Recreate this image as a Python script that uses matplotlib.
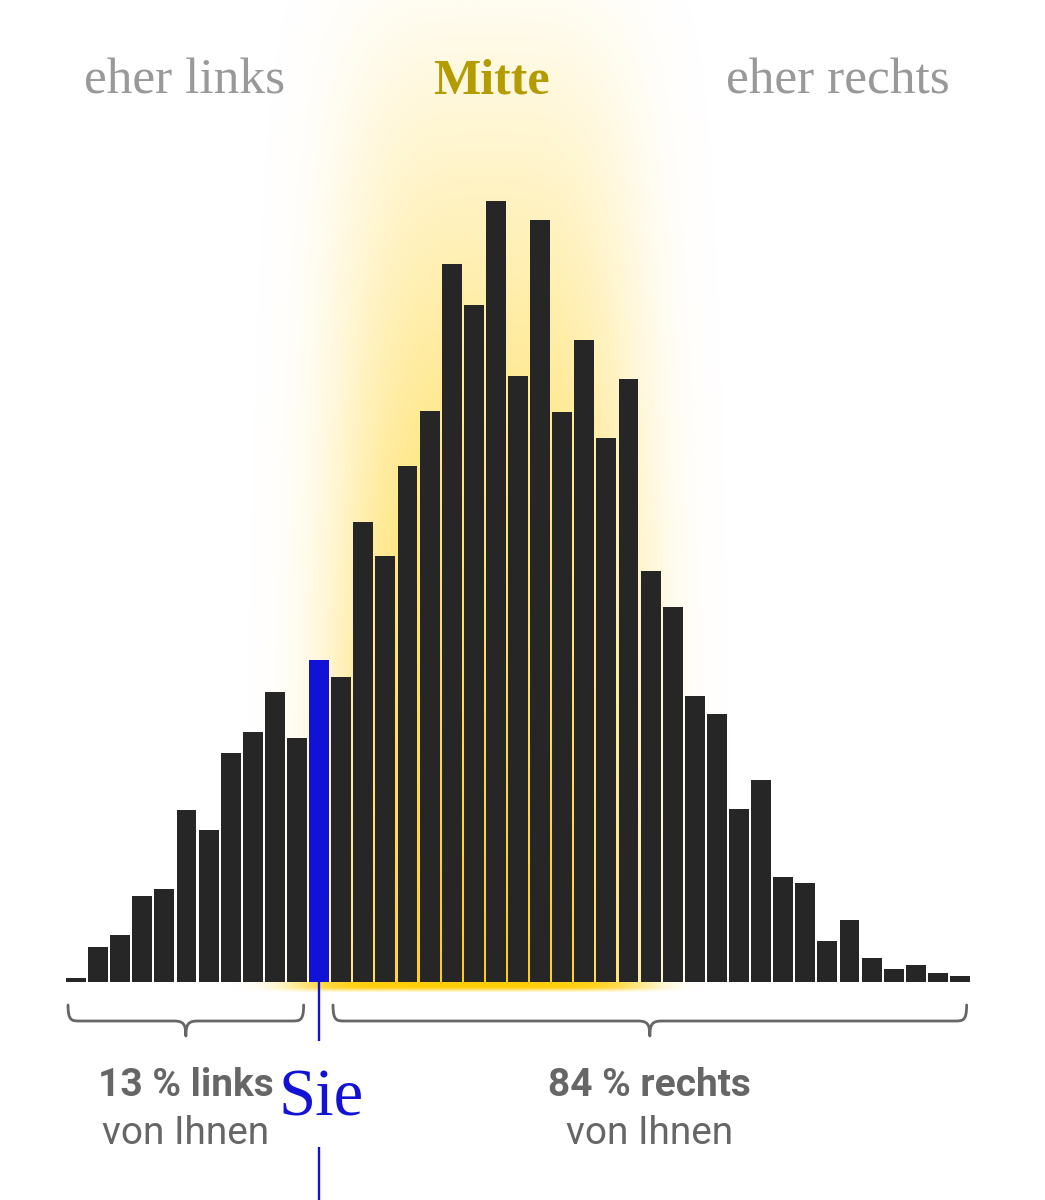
import numpy as np
import matplotlib
matplotlib.use("Agg")
import matplotlib.pyplot as plt
from matplotlib.path import Path
from matplotlib.patches import PathPatch

# counts per bin (left to right)
counts = [4.5, 35, 47, 86, 93, 172, 152, 229, 250, 290, 244,
          322, 305, 460, 426, 516, 571, 718, 677, 781, 606,
          762, 570, 642, 544, 603, 411, 375, 286, 268, 173,
          202, 105, 99, 41, 62, 24, 13, 17, 8.6, 6]
you_bin = 11
top_labels = ["eher links", "Mitte", "eher rechts"]
top_label_x = [4.93, 18.78, 34.48]

bar_color = "#262626"
blue = "#1212d6"
grey = "#666666"

n = len(counts)
x = np.arange(n)
left_share = round(sum(counts[:you_bin]) / sum(counts) * 100)
right_share = round(sum(counts[you_bin + 1:]) / sum(counts) * 100)

fig = plt.figure(figsize=(10.45, 12), dpi=100)
ax = fig.add_axes([64.95 / 1045, 0, 906.1 / 1045, 1])
ax.set_xlim(-0.5, n - 0.5)
ax.set_ylim(-218, 982)
ax.axis("off")

# yellow glow behind the middle
gx = np.linspace(-0.5, n - 0.5, 900)
gy = np.linspace(-12, 982, 900)
XX, YY = np.meshgrid(gx, gy)
h_main = np.exp(-(np.abs(XX - 18.64) / 6.8) ** 3.5)
h_strip = np.exp(-(np.abs(XX - 17.8) / 8.1) ** 6)
v_main = 0.06 + 0.94 * (1 - YY / 982)
alpha = np.where(YY >= 0, h_main * v_main,
                 h_strip * np.clip((YY + 11) / 5, 0, 1))
glow = np.zeros(XX.shape + (4,))
glow[..., 0] = 1.0
glow[..., 1] = 0.80
glow[..., 2] = 0.0
glow[..., 3] = np.clip(alpha * 0.97, 0, 1)
ax.imshow(glow, extent=(-0.5, n - 0.5, -12, 982), origin="lower",
          aspect="auto", interpolation="bilinear", zorder=0)

colors = [blue if i == you_bin else bar_color for i in range(n)]
ax.bar(x, counts, width=0.9, color=colors, linewidth=0, zorder=2)

# "Sie" marker line (with a gap for the label)
ax.plot([you_bin, you_bin], [0, -59], color=blue, lw=1.7, zorder=3,
        solid_capstyle="butt")
ax.plot([you_bin, you_bin], [-165, -218], color=blue, lw=1.7, zorder=3,
        solid_capstyle="butt")


def brace(x0, x1, y_end=-23, y_line=-39, y_tip=-54, rx=0.55):
    xm = (x0 + x1) / 2
    verts = [(x0, y_end),
             (x0, y_line), (x0 + rx * 0.3, y_line), (x0 + rx, y_line),
             (xm - rx, y_line),
             (xm - rx * 0.2, y_line), (xm, y_line - 3), (xm, y_tip),
             (xm, y_line - 3), (xm + rx * 0.2, y_line), (xm + rx, y_line),
             (x1 - rx, y_line),
             (x1 - rx * 0.3, y_line), (x1, y_line), (x1, y_end)]
    codes = [Path.MOVETO,
             Path.CURVE4, Path.CURVE4, Path.CURVE4,
             Path.LINETO,
             Path.CURVE4, Path.CURVE4, Path.CURVE4,
             Path.CURVE4, Path.CURVE4, Path.CURVE4,
             Path.LINETO,
             Path.CURVE4, Path.CURVE4, Path.CURVE4]
    ax.add_patch(PathPatch(Path(verts, codes), fill=False, edgecolor=grey,
                           lw=2.0, capstyle="round", joinstyle="round"))
    return xm


lx = brace(-0.36, you_bin - 0.7)
rx_ = brace(you_bin + 0.63, n - 0.7)

serif = ["Liberation Serif", "DejaVu Serif"]
sans = ["Roboto", "DejaVu Sans"]

for lab, tx in zip(top_labels, top_label_x):
    if lab == "Mitte":
        ax.text(tx, 888, lab, ha="center", va="baseline", family=serif,
                fontsize=36, fontweight="bold", color="#b39b00")
    else:
        ax.text(tx, 888, lab, ha="center", va="baseline", family=serif,
                fontsize=37, color="#999999")

ax.text(lx, -114, f"{left_share} % links", ha="center", va="baseline",
        family=sans, fontsize=28, fontweight="bold", color=grey)
ax.text(lx, -162, "von Ihnen", ha="center", va="baseline",
        family=sans, fontsize=28, color=grey)
ax.text(rx_, -114, f"{right_share} % rechts", ha="center", va="baseline",
        family=sans, fontsize=28, fontweight="bold", color=grey)
ax.text(rx_, -162, "von Ihnen", ha="center", va="baseline",
        family=sans, fontsize=28, color=grey)
ax.text(you_bin + 0.1, -133, "Sie", ha="center", va="baseline",
        family=serif, fontsize=48, color=blue)

fig.savefig("out.png", dpi=100, facecolor="white")
